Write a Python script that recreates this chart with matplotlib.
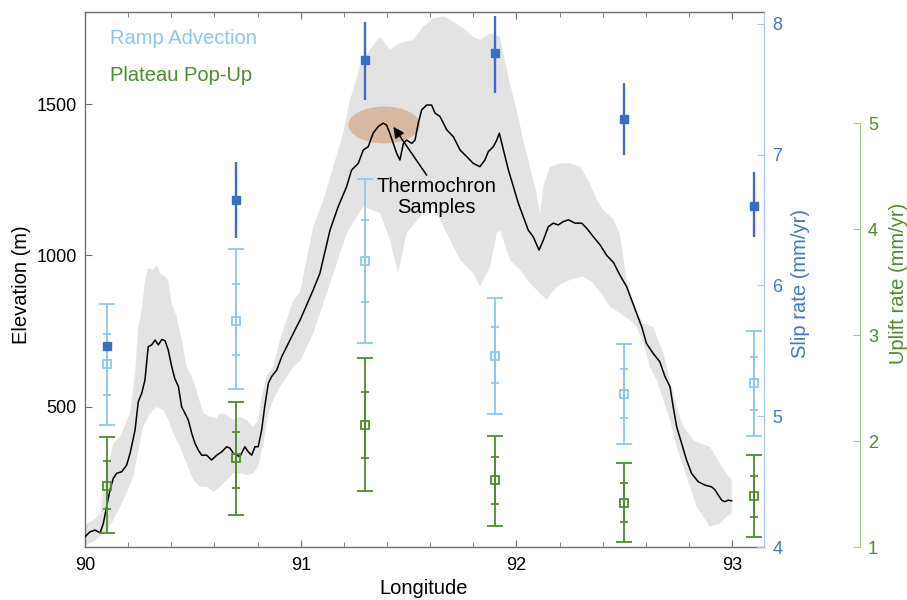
import numpy as np
import matplotlib.pyplot as plt
from matplotlib.patches import Ellipse
from matplotlib.ticker import MultipleLocator

plt.rcParams['font.family'] = ['Liberation Sans', 'DejaVu Sans']

# elevation profile (swath mean) along longitude
prof_lon = [90.000, 90.023, 90.046, 90.070, 90.085, 90.100, 90.116, 90.131, 90.147, 90.170,
            90.193, 90.209, 90.232, 90.247, 90.263, 90.278, 90.293, 90.309, 90.325, 90.340,
            90.356, 90.371, 90.386, 90.402, 90.416, 90.433, 90.448, 90.464, 90.479, 90.495,
            90.510, 90.525, 90.541, 90.564, 90.587, 90.611, 90.634, 90.657, 90.672, 90.688,
            90.703, 90.718, 90.741, 90.757, 90.773, 90.788, 90.803, 90.819, 90.833, 90.850,
            90.865, 90.889, 90.912, 90.935, 90.958, 90.981, 90.997,
            91.058, 91.089, 91.136, 91.174, 91.213, 91.236, 91.267, 91.290, 91.313, 91.336,
            91.360, 91.382, 91.398, 91.413, 91.429, 91.445, 91.460, 91.476, 91.491, 91.515,
            91.530, 91.545, 91.561, 91.584, 91.607, 91.623, 91.646, 91.677, 91.708, 91.739,
            91.770, 91.800, 91.831,
            91.854, 91.870, 91.893, 91.909, 91.921, 91.940, 91.963, 91.986, 92.009, 92.032,
            92.055, 92.078, 92.105, 92.125, 92.148, 92.171, 92.194, 92.217, 92.241, 92.272,
            92.303, 92.326, 92.357, 92.388, 92.419, 92.450, 92.480,
            92.511, 92.534, 92.557, 92.581, 92.603, 92.634, 92.665, 92.689, 92.712, 92.727,
            92.743, 92.766, 92.789, 92.812, 92.843, 92.874, 92.905, 92.921, 92.936, 92.952,
            92.967, 92.982, 92.998]
prof_elev = [69, 85, 91, 82, 113, 168, 224, 262, 279, 284,
             306, 345, 422, 516, 544, 588, 698, 704, 720, 704,
             722, 718, 687, 632, 593, 566, 499, 477, 455, 411,
             378, 356, 339, 339, 323, 339, 350, 367, 362, 345,
             339, 334, 367, 350, 339, 367, 367, 422, 499, 577,
             599, 621, 665, 698, 731, 764, 786,
             886, 941, 1084, 1162, 1228, 1283, 1305, 1349, 1360, 1405,
             1427, 1438, 1432, 1405, 1371, 1338, 1316, 1371, 1382, 1371,
             1382, 1438, 1482, 1498, 1498, 1471, 1460, 1416, 1393, 1349,
             1327, 1305, 1294,
             1316, 1344, 1360, 1382, 1405, 1349, 1283, 1228, 1173, 1128,
             1084, 1062, 1018, 1051, 1095, 1107, 1101, 1112, 1118, 1107,
             1107, 1090, 1062, 1035, 1000, 977, 935,
             897, 853, 809, 764, 709, 676, 648, 599, 566, 499,
             433, 378, 323, 279, 251, 240, 234, 224, 207, 190,
             185, 190, 188]

# swath max / min envelopes
band_up_lon = [90.000, 90.039, 90.070, 90.100, 90.131, 90.162, 90.209, 90.232, 90.247, 90.263,
               90.278, 90.293, 90.317, 90.333, 90.348, 90.371, 90.386, 90.402, 90.425, 90.448,
               90.471, 90.502, 90.525, 90.548, 90.580, 90.611, 90.626, 90.657, 90.688, 90.718,
               90.750, 90.780, 90.803, 90.819, 90.842, 90.873, 90.904, 90.935, 90.966, 90.997,
               91.058, 91.105, 91.151, 91.197, 91.229, 91.275, 91.321, 91.368, 91.414, 91.460,
               91.522, 91.568, 91.615, 91.661, 91.708, 91.754, 91.800, 91.831, 91.878, 91.924,
               91.940, 91.970, 92.001, 92.032, 92.063, 92.094, 92.109, 92.125, 92.156, 92.202,
               92.248, 92.295, 92.341, 92.372, 92.403, 92.450, 92.480, 92.511, 92.542, 92.588,
               92.634, 92.681, 92.712, 92.743, 92.774, 92.820, 92.851, 92.897, 92.943, 92.974,
               92.998]
band_up_elev = [108, 124, 146, 279, 378, 400, 477, 610, 764, 820,
                919, 958, 952, 969, 941, 930, 919, 842, 797, 720,
                632, 588, 533, 478, 466, 461, 478, 472, 455, 466,
                455, 433, 455, 533, 599, 632, 720, 790, 850, 880,
                1095, 1184, 1294, 1405, 1515, 1625, 1681, 1724, 1681, 1703,
                1714, 1758, 1785, 1791, 1774, 1752, 1724, 1714, 1736, 1724,
                1669, 1570, 1482, 1382, 1294, 1206, 1140, 1228, 1294, 1305,
                1305, 1294, 1239, 1184, 1151, 1120, 1070, 919, 830, 775,
                764, 676, 588, 499, 433, 389, 378, 367, 312, 279,
                257]
band_lo_lon = [90.000, 90.039, 90.070, 90.100, 90.131, 90.162, 90.193, 90.224, 90.247, 90.270,
               90.301, 90.333, 90.363, 90.386, 90.409, 90.440, 90.471, 90.502, 90.532, 90.563,
               90.595, 90.626, 90.657, 90.688, 90.718, 90.750, 90.780, 90.803, 90.827, 90.850,
               90.873, 90.904, 90.935, 90.966, 90.997, 91.058, 91.136, 91.213, 91.290, 91.368,
               91.414, 91.452, 91.491, 91.553, 91.615, 91.677, 91.739, 91.800, 91.831, 91.878,
               91.909, 91.924, 91.940, 91.970, 92.017, 92.063, 92.109, 92.140, 92.187, 92.248,
               92.310, 92.357, 92.403, 92.434, 92.480, 92.527, 92.558, 92.588, 92.619, 92.650,
               92.681, 92.712, 92.743, 92.774, 92.805, 92.836, 92.867, 92.897, 92.943, 92.974,
               92.998]
band_lo_elev = [41, 52, 69, 91, 124, 168, 213, 268, 356, 433,
                478, 499, 488, 455, 411, 367, 312, 257, 234, 234,
                218, 234, 257, 279, 279, 273, 279, 301, 378, 478,
                522, 566, 599, 632, 650, 742, 908, 1073, 1162, 1140,
                1051, 941, 1073, 1128, 1162, 1073, 985, 941, 897, 963,
                1073, 1084, 1051, 985, 952, 908, 875, 853, 897, 919,
                930, 908, 864, 830, 809, 786, 764, 709, 632, 588,
                522, 455, 367, 301, 234, 168, 135, 102, 113, 135,
                146]

# rate estimates at the sites
sites = np.array([90.1, 90.7, 91.3, 91.9, 92.5, 93.1])

slip = np.array([5.54, 6.65, 7.72, 7.78, 7.27, 6.61])
slip_lo = np.array([5.54, 6.36, 7.42, 7.47, 7.00, 6.37])
slip_hi = np.array([5.54, 6.94, 8.01, 8.06, 7.55, 6.87])

ramp = np.array([5.40, 5.73, 6.19, 5.46, 5.17, 5.25])
ramp_lo1 = np.array([5.16, 5.47, 5.87, 5.25, 4.99, 5.05])
ramp_hi1 = np.array([5.63, 6.01, 6.50, 5.68, 5.36, 5.45])
ramp_lo2 = np.array([4.93, 5.21, 5.56, 5.02, 4.79, 4.85])
ramp_hi2 = np.array([5.86, 6.28, 6.81, 5.90, 5.55, 5.65])

popup = np.array([1.58, 1.84, 2.15, 1.63, 1.42, 1.48])
popup_lo1 = np.array([1.36, 1.56, 1.84, 1.41, 1.24, 1.28])
popup_hi1 = np.array([1.81, 2.09, 2.46, 1.85, 1.60, 1.67])
popup_lo2 = np.array([1.13, 1.30, 1.53, 1.20, 1.05, 1.09])
popup_hi2 = np.array([2.04, 2.37, 2.78, 2.05, 1.79, 1.87])

thermo_lon = 91.387
thermo_elev = 1432

dark_blue = '#3a6ec4'
light_blue = '#8fc8ec'
green = '#4f8c2f'
gray = '#6e6e6e'

fig = plt.figure(figsize=(9.07, 6.0), dpi=100)
ax = fig.add_axes([85 / 907, 53 / 600, 679 / 907, 535 / 600])

ax.fill(np.concatenate([band_up_lon, band_lo_lon[::-1]]),
        np.concatenate([band_up_elev, band_lo_elev[::-1]]),
        color='#e3e3e3', lw=0, zorder=1)
ax.add_patch(Ellipse((thermo_lon, thermo_elev), 0.332, 122,
                     facecolor='#d8b8a0', edgecolor='none', zorder=2))
ax.plot(prof_lon, prof_elev, color='k', lw=1.1, zorder=3)

ax.annotate('', xy=(91.43, 1426), xytext=(91.584, 1266),
            arrowprops=dict(arrowstyle='-|>', color='k', lw=1.1, mutation_scale=16,
                            shrinkA=0, shrinkB=0), zorder=4)
ax.text(91.63, 1194, 'Thermochron\nSamples', ha='center', va='center',
        fontsize=14.5, linespacing=1.15, zorder=4)

ax.text(0.037, 0.951, 'Ramp Advection', transform=ax.transAxes, color=light_blue,
        fontsize=14.5, va='center')
ax.text(0.037, 0.882, 'Plateau Pop-Up', transform=ax.transAxes, color=green,
        fontsize=14.5, va='center')

ax.set_xlim(90, 93.148)
ax.set_ylim(35, 1806)
ax.set_xticks([90, 91, 92, 93])
ax.set_xticklabels(['90', '91', '92', '93'])
ax.xaxis.set_minor_locator(MultipleLocator(0.2))
ax.set_yticks([500, 1000, 1500])
ax.tick_params(axis='x', which='both', direction='in', top=True, colors=gray,
               labelcolor='k', labelsize=13, pad=7)
ax.tick_params(axis='x', which='major', length=5)
ax.tick_params(axis='x', which='minor', length=3.5)
ax.tick_params(axis='y', which='both', direction='in', right=False, colors=gray,
               labelcolor='k', labelsize=13, length=5, pad=6)
for s in ['left', 'bottom', 'top']:
    ax.spines[s].set_color(gray)
    ax.spines[s].set_linewidth(1.0)
ax.spines['right'].set_visible(False)

# slip rate axis
ax2 = ax.twinx()
ax2.errorbar(sites, slip, yerr=[slip - slip_lo, slip_hi - slip], fmt='s', color=dark_blue,
             ms=6, lw=1.7, capsize=0)
ax2.errorbar(sites, ramp, yerr=[ramp - ramp_lo2, ramp_hi2 - ramp], fmt='none',
             ecolor=light_blue, elinewidth=1.3, capsize=5.5, capthick=1.3)
ax2.errorbar(sites, ramp, yerr=[ramp - ramp_lo1, ramp_hi1 - ramp], fmt='s',
             color=light_blue, mfc='none', ms=5.5, mew=1.3, elinewidth=1.3,
             capsize=3, capthick=1.3)
ax2.set_ylim(4, 8.09)
ax2.set_yticks([4, 5, 6, 7, 8])
for s in ['left', 'bottom', 'top']:
    ax2.spines[s].set_visible(False)
ax2.spines['right'].set_color('#a9c6e8')
ax2.tick_params(axis='y', direction='in', colors='#a9c6e8', labelcolor='#4477c8',
                labelsize=13, length=5, pad=6)

# uplift rate axis
ax3 = ax.twinx()
ax3.errorbar(sites, popup, yerr=[popup - popup_lo2, popup_hi2 - popup], fmt='none',
             ecolor=green, elinewidth=1.3, capsize=5.5, capthick=1.3)
ax3.errorbar(sites, popup, yerr=[popup - popup_lo1, popup_hi1 - popup], fmt='s',
             color=green, mfc='none', ms=5.5, mew=1.3, elinewidth=1.3,
             capsize=3, capthick=1.3)
ax3.set_ylim(1, 6.05)
ax3.set_yticks([1, 2, 3, 4, 5])
for s in ['left', 'bottom', 'top']:
    ax3.spines[s].set_visible(False)
ax3.spines['right'].set_position(('axes', 1.141))
ax3.spines['right'].set_bounds(1, 5)
ax3.spines['right'].set_color('#9fcb88')
ax3.tick_params(axis='y', direction='in', colors='#9fcb88', labelcolor=green,
                labelsize=13, length=5, pad=6)

fig.text(22 / 907, 1 - 285 / 600, 'Elevation (m)', rotation=90, ha='center',
         va='center', fontsize=14.5)
fig.text(424 / 907, 1 - 588 / 600, 'Longitude', ha='center', va='center', fontsize=14.5)
fig.text(800 / 907, 1 - 283 / 600, 'Slip rate (mm/yr)', rotation=90, ha='center',
         va='center', fontsize=14.5, color='#4477c8')
fig.text(898 / 907, 1 - 283 / 600, 'Uplift rate (mm/yr)', rotation=90, ha='center',
         va='center', fontsize=14.5, color=green)

fig.savefig('out.png', dpi=100)
